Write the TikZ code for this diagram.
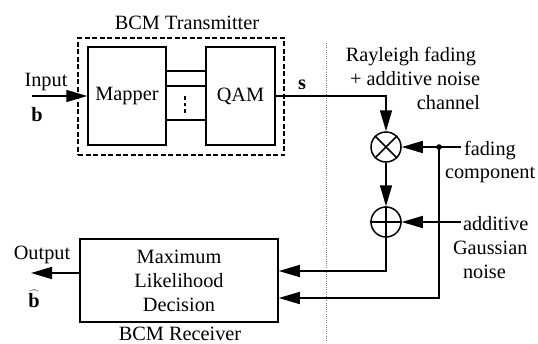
\documentclass[tikz,border=0pt]{standalone}
\usepackage{fontspec}
\setmainfont{Liberation Serif}
\usetikzlibrary{arrows.meta}
\begin{document}
\begin{tikzpicture}[x=1pt,y=-1pt, line width=1.5pt,
  lbl/.style={font=\fontsize{20.3}{24}\selectfont, inner sep=0pt, outer sep=0pt},
  blk/.style={draw, line width=1.5pt, inner sep=0pt, font=\fontsize{20.3}{24}\selectfont},
  sumnode/.style={draw, circle, line width=1.5pt, minimum size=30pt, inner sep=0pt},
  arr/.style={-{Triangle[length=21pt,width=12pt]}}]
\useasboundingbox (0,0) rectangle (538,343);
% transmitter
\node[draw, line width=1.2pt, dash pattern=on 5pt off 2.5pt, minimum width=206pt, minimum height=117pt, inner sep=0pt] (tx) at (181,96.5) {};
\node[blk, minimum width=78pt, minimum height=98pt] (map) at (127,96) {Mapper};
\node[blk, minimum width=69pt, minimum height=98pt] (qam) at (240.5,96) {QAM};
\node[lbl, anchor=base] (txl) at (187,29) {BCM Transmitter};
\foreach \yy in {71,86,120} \draw (map.east |- 0,\yy) -- (qam.west |- 0,\yy);
\draw[line width=2.2pt, dash pattern=on 3.5pt off 3pt] (185,96) -- (185,115);
% input
\coordinate (inp) at (32,96);
\draw[arr] (inp) -- (map.west);
\node[lbl, anchor=base] (inl) at (46,86) {Input};
\node[lbl, anchor=base] (bl) at (37,121) {\textbf{b}};
% channel
\draw[gray, line width=0.8pt, dash pattern=on 1pt off 1.2pt] (326,43) -- (326,342);
\node[lbl, anchor=base east] (ch1) at (476,61) {Rayleigh fading};
\node[lbl, anchor=base east] (ch2) at (480,85) {+ additive noise};
\node[lbl, anchor=base east] (ch3) at (480,109) {channel};
% operators
\node[sumnode] (mult) at (386,147) {};
\draw (mult.north west) -- (mult.south east) (mult.north east) -- (mult.south west);
\node[sumnode] (add) at (386,222) {};
\draw (add.north) -- (add.south) (add.west) -- (add.east);
\coordinate (qc) at (386,96);
\draw[arr] (qam.east) -- (qc) -- (mult.north);
\node[lbl, anchor=base] (sl) at (302,89) {\textbf{s}};
\draw[arr] (mult.south) -- (add.north);
% fading component
\coordinate (fj) at (439,147);
\coordinate (fin) at (461,147);
\draw (fin) -- (fj);
\draw[arr] (fj) -- (mult.east);
\fill (fj) circle (2.8);
\node[lbl, anchor=base west] (fl1) at (464,155) {fading};
\node[lbl, anchor=base west] (fl2) at (445,178) {component};
% noise
\coordinate (nin) at (461,222);
\draw[arr] (nin) -- (add.east);
\node[lbl, anchor=base west] (nl1) at (463,230) {additive};
\node[lbl, anchor=base west] (nl2) at (453,254) {Gaussian};
\node[lbl, anchor=base west] (nl3) at (463,278) {noise};
% receiver
\node[blk, minimum width=198pt, minimum height=83pt, align=center] (rx) at (179,280.5) {Maximum\\Likelihood\\Decision};
\node[lbl, anchor=base] (rxl) at (180,340) {BCM Receiver};
\draw[arr] (add.south) |- (rx.east |- 0,271);
\draw[arr] (fj) |- (rx.east |- 0,298);
% output
\coordinate (outp) at (31,273);
\draw[arr] (rx.west |- outp) -- (outp);
\node[lbl, anchor=base] (ol) at (42,259) {Output};
\node[lbl, anchor=base] (bh) at (34,307) {$\widehat{\textbf{b}}$};
\end{tikzpicture}
\end{document}
